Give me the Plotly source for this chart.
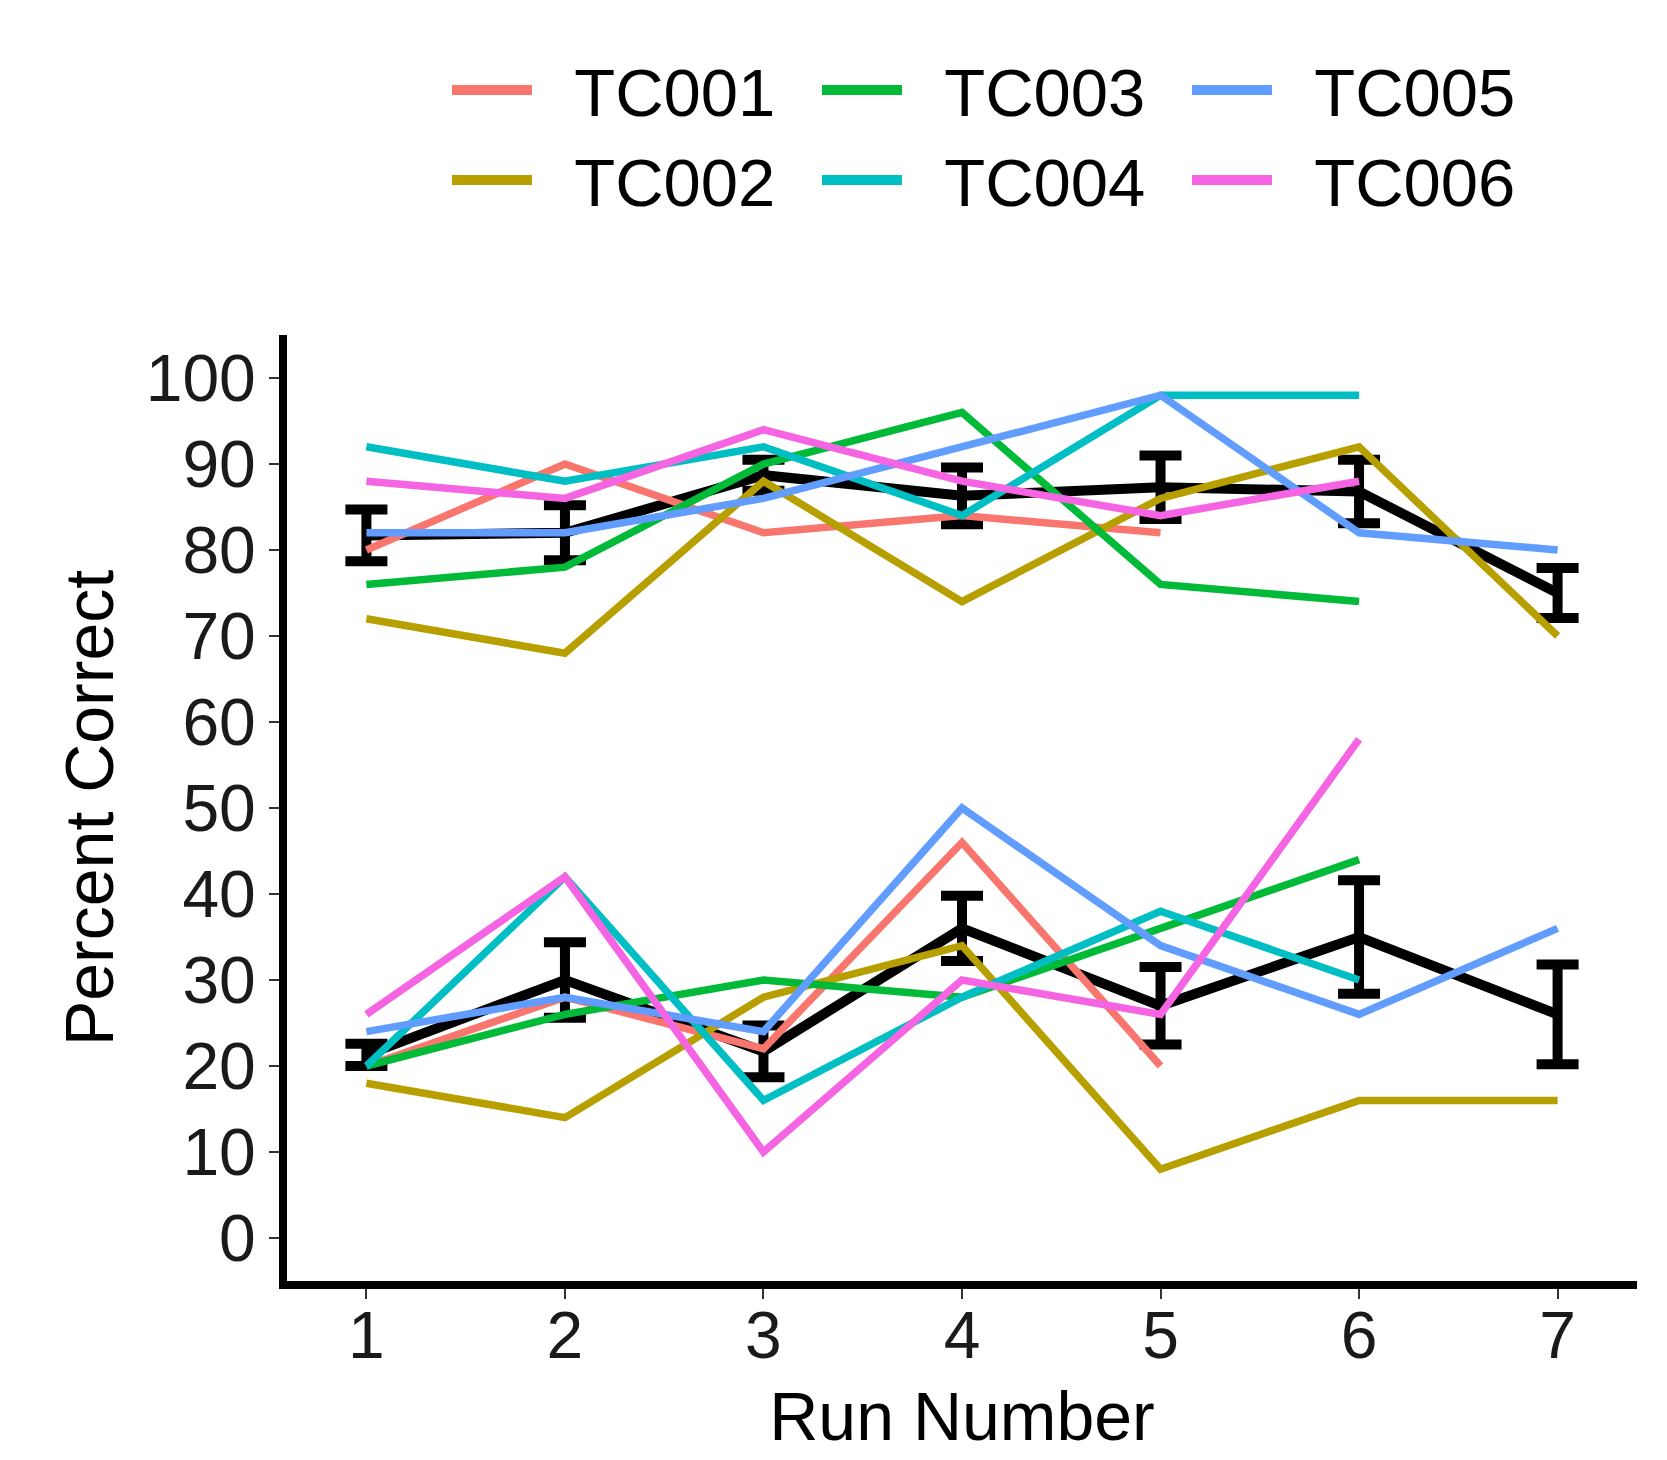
import plotly.graph_objects as go

runs = [1, 2, 3, 4, 5, 6, 7]
subjects = ["TC001", "TC002", "TC003", "TC004", "TC005", "TC006"]
colors = ["#F8766D", "#B79F00", "#00BA38", "#00BFC4", "#619CFF", "#F564E3"]
legend_ranks = [1, 4, 2, 5, 3, 6]

# Percent correct per subject: upper (high) and lower (low) condition
tc001_high = [80, 90, 82, 84, 82, None, None]
tc001_low = [20, 28, 22, 46, 20, None, None]
tc002_high = [72, 68, 88, 74, 86, 92, 70]
tc002_low = [18, 14, 28, 34, 8, 16, 16]
tc003_high = [76, 78, 90, 96, 76, 74, None]
tc003_low = [20, 26, 30, 28, 36, 44, None]
tc004_high = [92, 88, 92, 84, 98, 98, None]
tc004_low = [20, 42, 16, 28, 38, 30, None]
tc005_high = [82, 82, 86, 92, 98, 82, 80]
tc005_low = [24, 28, 24, 50, 34, 26, 36]
tc006_high = [88, 86, 94, 88, 84, 88, None]
tc006_low = [26, 42, 10, 30, 26, 58, None]

# Group means and error bars
mean_high = [81.7, 82.0, 88.7, 86.3, 87.3, 86.8, 75.0]
err_high = [3.0, 3.2, 1.8, 3.3, 3.7, 3.7, 2.9]
mean_low = [21.3, 30.0, 21.7, 36.0, 27.0, 35.0, 26.0]
err_low = [1.3, 4.4, 3.0, 3.8, 4.5, 6.6, 5.8]

y_ticks = [0, 10, 20, 30, 40, 50, 60, 70, 80, 90, 100]

high_series = [tc001_high, tc002_high, tc003_high, tc004_high, tc005_high, tc006_high]
low_series = [tc001_low, tc002_low, tc003_low, tc004_low, tc005_low, tc006_low]

FONT = "Liberation Sans, Arial, sans-serif"
NBSP = "\u00a0"

fig = go.Figure()

# Mean lines with error bars (drawn first, underneath)
for m, e in [(mean_high, err_high), (mean_low, err_low)]:
    fig.add_trace(go.Scatter(
        x=runs, y=m, mode="lines",
        line=dict(color="black", width=10),
        error_y=dict(type="data", array=e, visible=True, color="black",
                     thickness=10, width=21),
        showlegend=False, hoverinfo="skip",
    ))

# Subject lines
for name, col, hi, lo in zip(subjects, colors, high_series, low_series):
    for ys in (hi, lo):
        fig.add_trace(go.Scatter(
            x=runs, y=ys, mode="lines",
            line=dict(color=col, width=7.5),
            showlegend=False, name=name,
        ))

# Legend entries
for name, col, rank in zip(subjects, colors, legend_ranks):
    fig.add_trace(go.Scatter(
        x=[None], y=[None], mode="lines",
        line=dict(color=col, width=14),
        name=NBSP * 2 + name, legendrank=rank, showlegend=True,
    ))

axis_common = dict(
    showline=True, linewidth=8, linecolor="black",
    ticks="outside", ticklen=10, tickwidth=2, tickcolor="#333333",
    showgrid=False, zeroline=False, automargin=False,
    tickfont=dict(family=FONT, size=66, color="#1a1a1a"),
)

fig.update_layout(
    width=1659, height=1452,
    margin=dict(l=279, r=30, t=327, b=179, autoexpand=False),
    paper_bgcolor="white", plot_bgcolor="white",
    font=dict(family=FONT, color="black"),
    xaxis=dict(range=[0.6, 7.4], tickvals=runs,
               title=dict(text="Run Number", font=dict(family=FONT, size=68), standoff=24),
               **axis_common),
    yaxis=dict(range=[-5, 105], tickvals=y_ticks,
               title=dict(text="Percent Correct", font=dict(family=FONT, size=68), standoff=13),
               **axis_common),
    legend=dict(orientation="h", x=0.1185, xanchor="left", y=1.312, yanchor="top",
                font=dict(family=FONT, size=67, color="black"),
                entrywidth=275, entrywidthmode="pixels", itemwidth=80,
                bgcolor="rgba(0,0,0,0)"),
)

try:
    fig.update_xaxes(ticklabelstandoff=-20)
except ValueError:
    pass

fig.write_html("out.html")
